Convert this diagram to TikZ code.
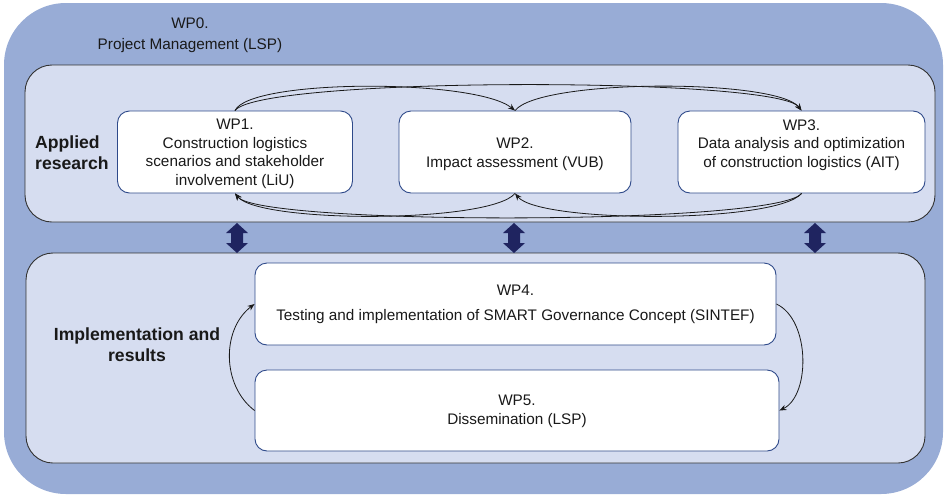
\documentclass[tikz,border=0pt]{standalone}
\usepackage{fontspec}
\setmainfont{Liberation Sans}
\usetikzlibrary{arrows.meta}

\definecolor{wpzero}{RGB}{152,172,214}
\definecolor{panelfill}{RGB}{214,221,240}
\definecolor{wpedge}{RGB}{47,74,138}
\definecolor{blockarrow}{RGB}{31,36,96}
\definecolor{ink}{RGB}{25,25,25}

\begin{document}
\begin{tikzpicture}[x=1pt,y=-1pt,
  panelbox/.style={draw=black!80, line width=0.9pt, fill=panelfill, rounded corners=27pt, inner sep=0pt},
  wpbox/.style={draw=wpedge, line width=0.9pt, fill=white, rounded corners=12pt, inner sep=0pt, minimum height=82pt},
  wptext/.style={align=center, text=ink, font=\fontsize{15.3}{18.5}\selectfont, inner sep=0pt},
  heading/.style={text=ink, font=\bfseries\fontsize{17.6}{21}\selectfont, inner sep=0pt},
  flow/.style={draw=black!90, line width=0.8pt, -{Stealth[length=7pt,width=5.5pt]}}]
\useasboundingbox (0,0) rectangle (945,496);

% WP0: project management frame
\fill[wpzero, rounded corners=62pt] (4,3) rectangle (943,494);
\node[wptext] (wp0) at (190,35) {WP0.\\[2.5pt]Project Management (LSP)};

% the two work panels
\node[panelbox, minimum width=910pt, minimum height=157pt] (applied) at (480,143.5) {};
\node[panelbox, minimum width=899pt, minimum height=210pt] (impl) at (475.5,358) {};

\node[heading, align=left, anchor=west] (appliedlabel) at (35,153) {Applied\\research};
\node[heading, align=center] (impllabel) at (137,345) {Implementation and\\results};

% work package boxes
\node[wpbox, minimum width=235pt] (wp1) at (235,152) {};
\node[wpbox, minimum width=232pt] (wp2) at (515,152) {};
\node[wpbox, minimum width=247pt] (wp3) at (801.5,152) {};
\node[wpbox, minimum width=521pt] (wp4) at (515.5,304) {};
\node[wpbox, minimum width=524pt, minimum height=81pt] (wp5) at (517,410.5) {};

\node[wptext] (wp1text) at ([yshift=-2pt]wp1.center) {WP1.\\Construction logistics\\scenarios and stakeholder\\involvement (LiU)};
\node[wptext] (wp2text) at ([yshift=-2pt]wp2.center) {WP2.\\Impact assessment (VUB)};
\node[wptext] (wp3text) at ([yshift=7pt]wp3.center) {WP3.\\Data analysis and optimization\\of construction logistics (AIT)};
\node[wptext] (wp4text) at ([yshift=-0.5pt]wp4.center) {WP4.\\[7pt]Testing and implementation of SMART Governance Concept (SINTEF)};
\node[wptext] (wp5text) at ([yshift=-1pt]wp5.center) {WP5.\\Dissemination (LSP)};

% exchanges among the research packages
\draw[flow] (wp1.north) .. controls +(15,-32) and +(-40,-32) .. (wp2.north);
\draw[flow] (wp1.north) .. controls +(25,-34) and +(-25,-34) .. (wp3.north);
\draw[flow] (wp2.north) .. controls +(25,-32) and +(-25,-32) .. (wp3.north);
\draw[flow] (wp3.south) .. controls +(-25,30) and +(25,30) .. (wp2.south);
\draw[flow] (wp3.south) .. controls +(-25,32) and +(25,32) .. (wp1.south);
\draw[flow] (wp2.south) .. controls +(-25,30) and +(25,30) .. (wp1.south);

% implementation loop
\draw[flow] (wp4.east) .. controls +(34,16) and +(31,-15) .. (wp5.east);
\draw[flow] (wp5.west) .. controls +(-33,-25) and +(-33,25) .. (wp4.west);

% block arrows linking the panels
\foreach \cx in {237,514,815} {
  \fill[blockarrow] (\cx,223) -- ++(11,10) -- ++(-5,0) -- ++(0,10) -- ++(5,0)
    -- (\cx,253) -- ++(-11,-10) -- ++(5,0) -- ++(0,-10) -- ++(-5,0) -- cycle;
}
\end{tikzpicture}
\end{document}
